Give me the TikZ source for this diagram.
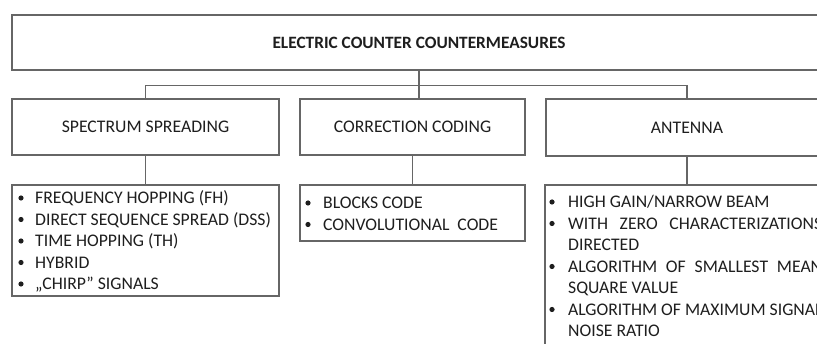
\documentclass[tikz,border=0pt]{standalone}
\usepackage{fontspec}
\setmainfont{Carlito}
\definecolor{linegray}{HTML}{666666}
\definecolor{txtgray}{HTML}{1E1E1E}
\tikzset{
  box/.style={draw=linegray, line width=1.2pt, inner sep=0pt, text=txtgray,
              font=\fontsize{17.7}{21.5}\selectfont},
  conn/.style={draw=linegray, line width=1.2pt},
  itemtxt/.style={anchor=base west, inner sep=0pt, text=txtgray,
                  font=\fontsize{17.7}{21.5}\selectfont},
  bulletdot/.style={fill=txtgray},
}
\begin{document}
\begin{tikzpicture}[x=1pt,y=-1pt]
\useasboundingbox (0,0) rectangle (817,344);
\fill[white] (0,0) rectangle (817,344);
\clip (0,0) rectangle (817,344);

% top box
\node[box, minimum width=814pt, minimum height=55pt,
      font=\bfseries\fontsize{17.3}{21}\selectfont] (top) at (419,42.5)
      {ELECTRIC COUNTER COUNTERMEASURES};

% second level
\node[box, minimum width=267pt, minimum height=56pt] (ss) at (145.5,127) {SPECTRUM SPREADING};
\node[box, minimum width=225pt, minimum height=56pt] (cc) at (412.5,127) {CORRECTION CODING};
\node[box, minimum width=282pt, minimum height=57pt] (an) at (687,127.5) {ANTENNA};

\coordinate (bus) at (0,85.5);
\draw[conn] (top.south) -- (top.south |- cc.north);
\draw[conn] (ss.north) -- (ss.north |- bus) -- (an.north |- bus) -- (an.north);

% list boxes
\node[box, minimum width=267pt, minimum height=111pt] (ssl) at (145.5,240.5) {};
\node[box, minimum width=225pt, minimum height=56pt] (ccl) at (412.5,213) {};
\node[box, minimum width=284pt, minimum height=200pt] (anl) at (687,285) {};

\draw[conn] (ss.south) -- (ssl.north);
\draw[conn] (cc.south) -- (ccl.north);
\draw[conn] (an.south) -- (anl.north);

% spectrum spreading items
\foreach \t [count=\i] in {FREQUENCY HOPPING (FH), DIRECT SEQUENCE SPREAD (DSS),
                           TIME HOPPING (TH), HYBRID, „CHIRP” SIGNALS}{
  \node[itemtxt] (ssi\i) at ({35},{182.5+21.5*\i}) {\t};
  \fill[bulletdot] ({21},{176.5+21.5*\i}) circle (2.6pt);
}

% correction coding items
\node[itemtxt] (cci1) at (323,209) {BLOCKS CODE};
\node[itemtxt] (cci2) at (323,230.5) {CONVOLUTIONAL\ \ CODE};
\fill[bulletdot] (308,203) circle (2.6pt);
\fill[bulletdot] (308,224.5) circle (2.6pt);

% antenna items
\node[itemtxt] (ani1) at (568,208) {HIGH GAIN/NARROW BEAM};
\node[itemtxt] (ani2) at (568,229.5) {\makebox[254pt][s]{WITH ZERO CHARACTERIZATIONS}};
\node[itemtxt] (ani3) at (568,251) {DIRECTED};
\node[itemtxt] (ani4) at (568,272.5) {\makebox[254pt][s]{ALGORITHM OF SMALLEST MEAN}};
\node[itemtxt] (ani5) at (568,294) {SQUARE VALUE};
\node[itemtxt] (ani6) at (568,315.5) {ALGORITHM OF MAXIMUM SIGNAL};
\node[itemtxt] (ani7) at (568,337) {NOISE RATIO};
\fill[bulletdot] (552,202) circle (2.6pt);
\fill[bulletdot] (552,223.5) circle (2.6pt);
\fill[bulletdot] (552,266.5) circle (2.6pt);
\fill[bulletdot] (552,309.5) circle (2.6pt);
\end{tikzpicture}
\end{document}
